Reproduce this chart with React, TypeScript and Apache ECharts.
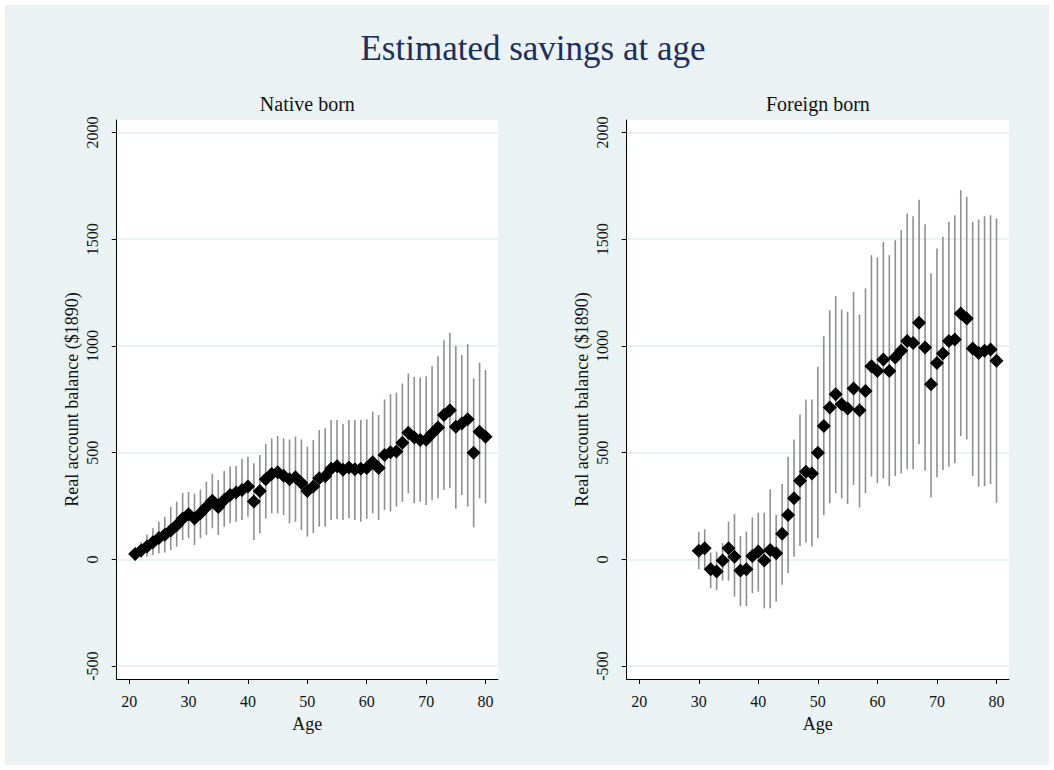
import React, { useEffect, useRef } from "react";
import * as echarts from "echarts";

// ---------- data ----------
const AGE_TICKS = [20, 30, 40, 50, 60, 70, 80];
const BALANCE_TICKS = [-500, 0, 500, 1000, 1500, 2000];

const nativeAges = [
  21, 22, 23, 24, 25, 26, 27, 28, 29, 30,
  31, 32, 33, 34, 35, 36, 37, 38, 39, 40,
  41, 42, 43, 44, 45, 46, 47, 48, 49, 50,
  51, 52, 53, 54, 55, 56, 57, 58, 59, 60,
  61, 62, 63, 64, 65, 66, 67, 68, 69, 70,
  71, 72, 73, 74, 75, 76, 77, 78, 79, 80,
];
const nativeEstimate = [
  25, 42, 60, 80, 100, 115, 135, 160, 190, 212,
  192, 216, 245, 275, 245, 278, 302, 313, 325, 341,
  271, 320, 375, 400, 408, 392, 375, 385, 358, 320,
  341, 380, 390, 425, 436, 420, 430, 422, 425, 428,
  455, 428, 489, 502, 505, 546, 593, 571, 559, 560,
  590, 618, 676, 699, 621, 637, 656, 500, 598, 575,
];
const nativeLower = [
  0, 8, 13, 21, 29, 32, 44, 60, 91, 99,
  68, 99, 115, 146, 115, 153, 169, 177, 185, 200,
  91, 123, 192, 216, 216, 208, 169, 177, 138, 107,
  123, 154, 154, 185, 188, 185, 193, 185, 177, 190,
  216, 185, 232, 224, 247, 270, 310, 263, 270, 255,
  278, 286, 325, 333, 239, 302, 247, 150, 286, 263,
];
const nativeUpper = [
  50, 80, 115, 146, 177, 200, 246, 270, 311, 316,
  308, 327, 364, 400, 372, 414, 435, 438, 472, 481,
  450, 489, 540, 567, 578, 567, 562, 575, 562, 528,
  559, 606, 614, 653, 653, 634, 653, 653, 653, 656,
  692, 676, 749, 774, 781, 824, 871, 855, 852, 858,
  905, 952, 1027, 1061, 999, 957, 1008, 848, 921, 887,
];

const foreignAges = [
  30, 31, 32, 33, 34, 35, 36, 37, 38, 39,
  40, 41, 42, 43, 44, 45, 46, 47, 48, 49,
  50, 51, 52, 53, 54, 55, 56, 57, 58, 59,
  60, 61, 62, 63, 64, 65, 66, 67, 68, 69,
  70, 71, 72, 73, 74, 75, 76, 77, 78, 79, 80,
];
const foreignEstimate = [
  41, 52, -46, -57, -5, 52, 13, -52, -46, 16,
  37, -5, 44, 29, 120, 208, 286, 369, 411, 403,
  500, 625, 712, 774, 727, 707, 800, 699, 789, 905,
  883, 936, 883, 946, 977, 1023, 1014, 1108, 993, 821,
  920, 965, 1023, 1030, 1152, 1128, 988, 967, 977, 983, 930,
];
const foreignLower = [
  -46, -41, -135, -143, -99, -99, -174, -218, -218, -158,
  -151, -229, -229, -197, -119, -65, 13, 63, 79, 60,
  99, 208, 263, 310, 286, 260, 349, 244, 310, 388,
  357, 380, 344, 391, 403, 422, 422, 540, 416, 291,
  385, 419, 434, 450, 578, 562, 391, 341, 344, 353, 266,
];
const foreignUpper = [
  130, 141, 32, 37, 76, 177, 213, 110, 130, 197,
  219, 219, 328, 208, 353, 481, 562, 679, 749, 749,
  902, 1045, 1167, 1233, 1170, 1160, 1253, 1148, 1269, 1425,
  1414, 1487, 1425, 1495, 1542, 1620, 1607, 1685, 1570, 1339,
  1456, 1511, 1581, 1612, 1729, 1698, 1581, 1592, 1607, 1612, 1597,
];

// ---------- style ----------
const FONT = '"Liberation Serif", "Times New Roman", serif';
const BG = "#eaf2f3";
const GRID_LINE = "#e2ecef";
const BAR_COLOR = "#8f8f8f";
const TITLE_COLOR = "#1d2d5c";

const panels = [
  {
    title: "Native born",
    left: 111.7,
    width: 381.3,
    ages: nativeAges,
    est: nativeEstimate,
    lo: nativeLower,
    hi: nativeUpper,
  },
  {
    title: "Foreign born",
    left: 621.7,
    width: 382.3,
    ages: foreignAges,
    est: foreignEstimate,
    lo: foreignLower,
    hi: foreignUpper,
  },
];

const GRID_TOP = 115;
const GRID_H = 559;

function buildOption() {
  const grid = panels.map((p) => ({
    left: p.left,
    top: GRID_TOP,
    width: p.width,
    height: GRID_H,
    show: true,
    backgroundColor: "#ffffff",
    borderWidth: 0,
    containLabel: false,
    outerBoundsMode: "none",
  }));

  const xAxis = panels.map((p, i) => ({
    type: "value",
    gridIndex: i,
    min: 17.9,
    max: 82.1,
    name: "Age",
    nameLocation: "middle",
    nameGap: 36,
    nameTextStyle: { fontFamily: FONT, fontSize: 18, color: "#111" },
    axisLine: { show: true, onZero: false, lineStyle: { color: "#000", width: 1 } },
    axisTick: {
      show: true,
      length: 5,
      customValues: AGE_TICKS,
      lineStyle: { color: "#000", width: 1 },
    },
    axisLabel: {
      show: true,
      customValues: AGE_TICKS,
      formatter: (v: number) => String(v),
      margin: 14,
      fontFamily: FONT,
      fontSize: 16,
      color: "#111",
    },
    splitLine: { show: false },
  }));

  const yAxis = panels.map((p, i) => ({
    type: "value",
    gridIndex: i,
    min: -560,
    max: 2058,
    name: "Real account balance ($1890)",
    nameLocation: "middle",
    nameRotate: 90,
    nameGap: 36,
    nameTextStyle: { fontFamily: FONT, fontSize: 18, color: "#111" },
    axisLine: { show: true, onZero: false, lineStyle: { color: "#000", width: 1 } },
    axisTick: {
      show: true,
      length: 5,
      customValues: BALANCE_TICKS,
      lineStyle: { color: "#000", width: 1 },
    },
    axisLabel: {
      show: true,
      customValues: BALANCE_TICKS,
      formatter: (v: number) => String(v),
      rotate: 90,
      margin: 16,
      fontFamily: FONT,
      fontSize: 16,
      color: "#111",
    },
    splitLine: { show: true, lineStyle: { color: GRID_LINE, width: 1.5 } },
  }));

  const series: any[] = [];
  panels.forEach((p, i) => {
    series.push({
      type: "custom",
      xAxisIndex: i,
      yAxisIndex: i,
      z: 2,
      data: p.ages.map((a, k) => [a, p.lo[k], p.hi[k]]),
      encode: { x: 0, y: [1, 2] },
      renderItem: (params: any, api: any) => {
        const x = api.value(0);
        const a = api.coord([x, api.value(1)]);
        const b = api.coord([x, api.value(2)]);
        return {
          type: "line",
          shape: { x1: a[0], y1: a[1], x2: b[0], y2: b[1] },
          style: { stroke: BAR_COLOR, lineWidth: 1.6 },
        };
      },
    });
  });
  panels.forEach((p, i) => {
    series.push({
      type: "scatter",
      xAxisIndex: i,
      yAxisIndex: i,
      z: 3,
      symbol: "diamond",
      symbolSize: 14,
      itemStyle: { color: "#000", opacity: 1 },
      data: p.ages.map((a, k) => [a, p.est[k]]),
    });
  });

  const graphic: any[] = [
    {
      type: "text",
      x: 528,
      y: 43,
      style: {
        text: "Estimated savings at age",
        fontFamily: FONT,
        fontSize: 35,
        fill: TITLE_COLOR,
        align: "center",
        verticalAlign: "middle",
        textAlign: "center",
        textVerticalAlign: "middle",
      },
    },
    ...panels.map((p) => ({
      type: "text",
      x: p.left + p.width / 2,
      y: 99,
      style: {
        text: p.title,
        fontFamily: FONT,
        fontSize: 20,
        fill: "#111",
        align: "center",
        verticalAlign: "middle",
        textAlign: "center",
        textVerticalAlign: "middle",
      },
    })),
  ];

  return {
    animation: false,
    backgroundColor: BG,
    grid,
    xAxis,
    yAxis,
    series,
    graphic,
  };
}

export default function App() {
  const ref = useRef<HTMLDivElement>(null);
  useEffect(() => {
    if (!ref.current) return;
    const chart = echarts.init(ref.current, undefined, { renderer: "svg" });
    chart.setOption(buildOption() as any);
    return () => chart.dispose();
  }, []);
  return (
    <div
      style={{
        position: "fixed",
        left: 0,
        top: 0,
        width: 1054,
        height: 770,
        background: "#ffffff",
      }}
    >
      <div
        ref={ref}
        style={{ position: "absolute", left: 5, top: 5, width: 1044, height: 760 }}
      />
    </div>
  );
}
